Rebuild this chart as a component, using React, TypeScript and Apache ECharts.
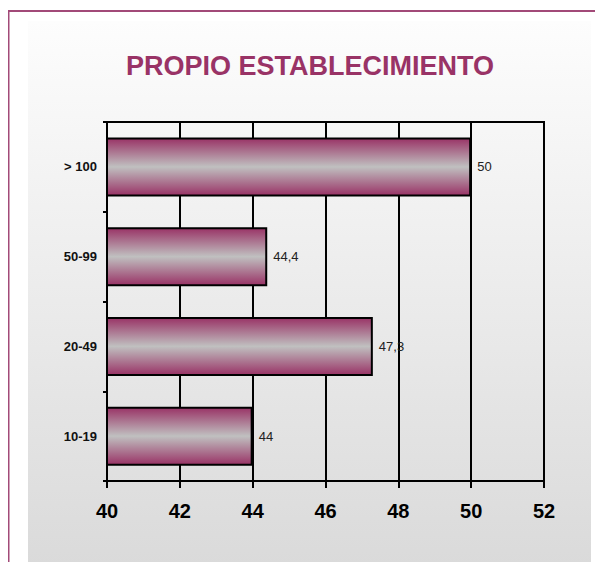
import React, { useEffect, useRef } from "react";
import * as echarts from "echarts";

const categories = ["10-19", "20-49", "50-99", "> 100"];
const values = [44, 47.3, 44.4, 50];
const titleText = "PROPIO ESTABLECIMIENTO";
const axisMin = 40;
const axisMax = 52;
const axisStep = 2;

const FONT = "'Liberation Sans', Arial, sans-serif";

export default function App() {
  const ref = useRef<HTMLDivElement>(null);
  useEffect(() => {
    if (!ref.current) return;
    const chart = echarts.init(ref.current, undefined, { renderer: "svg" });
    chart.setOption({
      animation: false,
      backgroundColor: "#ffffff",
      graphic: [
        {
          type: "rect",
          z: -10,
          shape: { x: 20, y: 13, width: 563, height: 560 },
          style: {
            fill: new echarts.graphic.LinearGradient(0, 0, 0, 1, [
              { offset: 0, color: "#fdfdfd" },
              { offset: 1, color: "#d9d9d9" },
            ]),
          },
        },
        {
          type: "line",
          shape: { x1: 0.5, y1: 3, x2: 0.5, y2: 600 },
          style: { stroke: "#a24a78", lineWidth: 2 },
        },
        {
          type: "line",
          shape: { x1: 0, y1: 3, x2: 600, y2: 3 },
          style: { stroke: "#a24a78", lineWidth: 2 },
        },
      ],
      title: {
        text: titleText,
        left: 297,
        top: 39,
        textAlign: "center",
        textStyle: {
          color: "#993366",
          fontSize: 27,
          fontWeight: "bold",
          fontFamily: FONT,
        },
      },
      grid: {
        left: 99,
        top: 114,
        width: 437,
        height: 359,
        show: true,
        borderColor: "#000",
        borderWidth: 2,
        backgroundColor: "transparent",
      },
      xAxis: {
        type: "value",
        min: axisMin,
        max: axisMax,
        interval: axisStep,
        axisLine: { show: true, lineStyle: { color: "#000", width: 2 } },
        axisTick: { show: true, length: 7, lineStyle: { color: "#000", width: 2 } },
        axisLabel: {
          color: "#000",
          fontSize: 20,
          fontWeight: "bold",
          fontFamily: FONT,
          margin: 20,
        },
        splitLine: { show: true, lineStyle: { color: "#000", width: 2 } },
      },
      yAxis: {
        type: "category",
        data: categories,
        axisLine: { show: true, lineStyle: { color: "#000", width: 2 } },
        axisTick: { show: true, length: 4, lineStyle: { color: "#000", width: 2 } },
        axisLabel: {
          color: "#111",
          fontSize: 13,
          fontWeight: "bold",
          fontFamily: FONT,
          margin: 10,
        },
        splitLine: { show: false },
      },
      series: [
        {
          type: "bar",
          data: values,
          barWidth: 59,
          itemStyle: {
            borderColor: "#000",
            borderWidth: 2,
            color: new echarts.graphic.LinearGradient(0, 0, 0, 1, [
              { offset: 0, color: "#993366" },
              { offset: 0.5, color: "#c0c0c0" },
              { offset: 1, color: "#993366" },
            ]),
          },
          label: {
            show: true,
            position: "right",
            distance: 6,
            color: "#222",
            fontSize: 13,
            fontFamily: FONT,
            formatter: (p: any) => String(p.value).replace(".", ","),
          },
        },
      ],
    });
    return () => chart.dispose();
  }, []);
  return <div ref={ref} style={{ width: 595, height: 554 }} />;
}
